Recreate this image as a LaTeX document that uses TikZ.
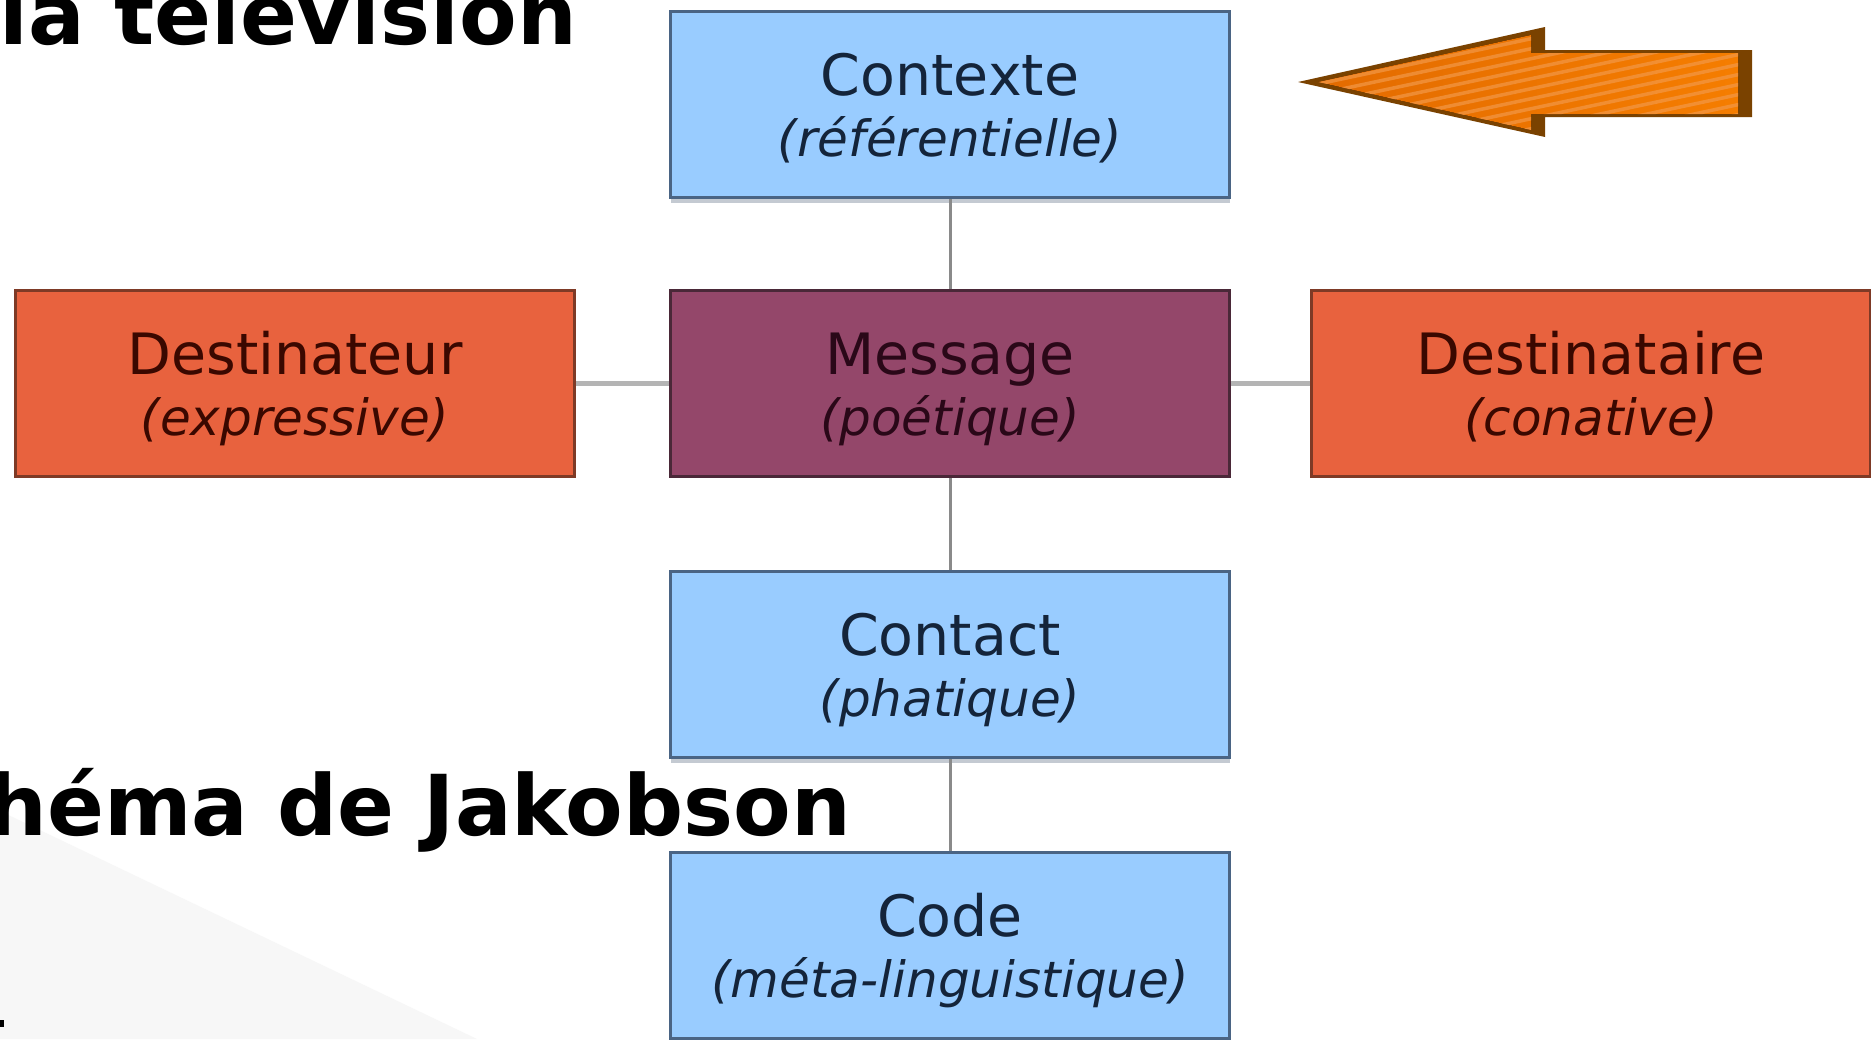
\documentclass[tikz,border=0pt]{standalone}
\usepackage{fontspec}
\setmainfont{DejaVu Sans}
\usetikzlibrary{calc,shadows}
\definecolor{bluefill}{HTML}{99CCFF}
\definecolor{blueline}{HTML}{4A6484}
\definecolor{bluetext}{HTML}{14243A}
\definecolor{blueshadow}{HTML}{C4CAD2}
\definecolor{orfill}{HTML}{E8623E}
\definecolor{orline}{HTML}{7E3A26}
\definecolor{ortext}{HTML}{3A0800}
\definecolor{msgfill}{HTML}{94476A}
\definecolor{msgline}{HTML}{4A2838}
\definecolor{msgtext}{HTML}{2A0818}
\definecolor{connv}{HTML}{8A8A8A}
\definecolor{connh}{HTML}{B4B4B4}
\definecolor{arrowdark}{HTML}{7A4200}
\definecolor{arrowfillA}{HTML}{E26A00}
\definecolor{arrowfillB}{HTML}{F67E00}
\definecolor{arrowstripe}{HTML}{F29848}
\definecolor{greytri}{HTML}{F7F7F7}
\begin{document}
\begin{tikzpicture}[x=1pt,y=-1pt,
  box/.style={draw, line width=3pt, minimum width=559pt, minimum height=186pt, inner sep=0pt, anchor=north west},
  bluebox/.style={box, fill=bluefill, draw=blueline, drop shadow={shadow xshift=0pt, shadow yshift=-5pt, fill=blueshadow, opacity=1}},
  orbox/.style={box, fill=orfill, draw=orline},
  msgbox/.style={box, fill=msgfill, draw=msgline},
  mainlbl/.style={anchor=base, inner sep=0pt, font=\fontsize{57}{60}\selectfont},
  sublbl/.style={anchor=base, inner sep=0pt, font=\fontsize{50}{54}\selectfont\itshape},
  titletext/.style={anchor=base east, inner sep=0pt, font=\fontsize{84}{90}\selectfont\bfseries, text=black},
  vline/.style={draw=connv, line width=3pt},
  hline/.style={draw=connh, line width=5pt},
]
\useasboundingbox (0,0) rectangle (1871,1039);
\clip (0,0) rectangle (1871,1039);
\fill[white] (0,0) rectangle (1871,1039);
% faint grey triangle
\fill[greytri] (0,811) -- (477,1039) -- (0,1039) -- cycle;
\fill[black] (0,1020) rectangle (4,1027);

% titles
\node[titletext] (t1) at (577,44) {la télévision};
\node[titletext] (t2) at (851,835) {héma de Jakobson};

% boxes
\node[bluebox] (ctx) at (669,10) {};
\node[orbox] (dtr) at (14,289) {};
\node[msgbox] (msg) at (669,289) {};
\node[orbox] (dta) at (1310,289) {};
\node[bluebox] (cont) at (669,570) {};
\node[bluebox] (code) at (669,851) {};

% connectors
\draw[vline] (ctx.south) -- (msg.north);
\draw[vline] (msg.south) -- (cont.north);
\draw[vline] (cont.south) -- (code.north);
\draw[hline] (dtr.east) -- (msg.west);
\draw[hline] (msg.east) -- (dta.west);

% labels
\node[mainlbl, text=bluetext] (ctx-a) at ($(ctx.north)+(0,85)$) {Contexte};
\node[sublbl, text=bluetext] (ctx-b) at ($(ctx.north)+(0,146)$) {(référentielle)};
\node[mainlbl, text=ortext] (dtr-a) at ($(dtr.north)+(0,85)$) {Destinateur};
\node[sublbl, text=ortext] (dtr-b) at ($(dtr.north)+(0,146)$) {(expressive)};
\node[mainlbl, text=msgtext] (msg-a) at ($(msg.north)+(0,85)$) {Message};
\node[sublbl, text=msgtext] (msg-b) at ($(msg.north)+(0,146)$) {(poétique)};
\node[mainlbl, text=ortext] (dta-a) at ($(dta.north)+(0,85)$) {Destinataire};
\node[sublbl, text=ortext] (dta-b) at ($(dta.north)+(0,146)$) {(conative)};
\node[mainlbl, text=bluetext] (cont-a) at ($(cont.north)+(0,85)$) {Contact};
\node[sublbl, text=bluetext] (cont-b) at ($(cont.north)+(0,146)$) {(phatique)};
\node[mainlbl, text=bluetext] (code-a) at ($(code.north)+(0,85)$) {Code};
\node[sublbl, text=bluetext] (code-b) at ($(code.north)+(0,146)$) {(méta-linguistique)};

% orange arrow
\fill[arrowdark] (1298,82) -- (1545,27) -- (1545,50) -- (1752,50) -- (1752,117) -- (1545,117) -- (1545,137) -- cycle;
\begin{scope}
\clip (1318,82) -- (1531,35) -- (1531,53) -- (1738,53) -- (1738,114) -- (1531,114) -- (1531,130) -- cycle;
\fill[left color=arrowfillA, right color=arrowfillB] (1290,20) rectangle (1760,140);
\foreach \k in {-9,...,15} {
  \draw[arrowstripe, line width=3.5pt, opacity=0.7] (1290,100+\k*10) -- (1760,\k*10);
}
\end{scope}
\end{tikzpicture}
\end{document}
